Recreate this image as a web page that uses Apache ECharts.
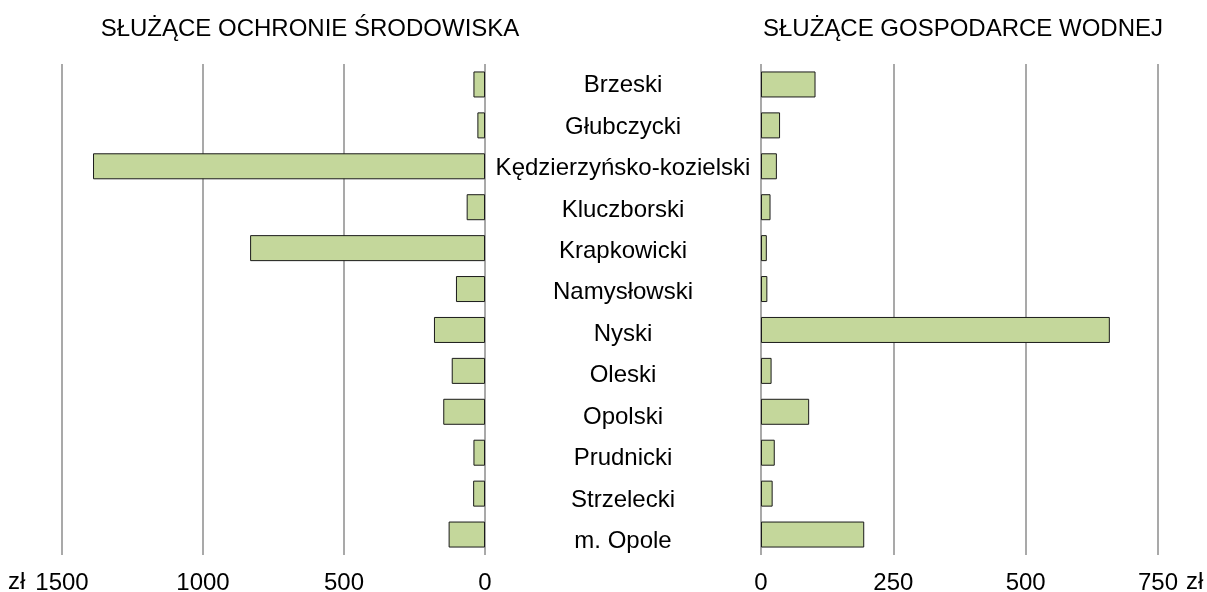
<!DOCTYPE html>
<html>
<head>
<meta charset="utf-8">
<script src="https://cdn.jsdelivr.net/npm/echarts@6/dist/echarts.min.js"></script>
<style>
  html, body { margin: 0; padding: 0; background: #fff; }
  #chart { width: 1207px; height: 592px; }
</style>
</head>
<body>
<div id="chart"></div>
<script>
// Powiaty (kolejność od góry)
const powiaty = ['Brzeski', 'Głubczycki', 'Kędzierzyńsko-kozielski', 'Kluczborski', 'Krapkowicki',
    'Namysłowski', 'Nyski', 'Oleski', 'Opolski', 'Prudnicki', 'Strzelecki', 'm. Opole'];

// Wartości (zł)
const ochronaSrodowiska = [41, 27, 1390, 65, 833, 103, 181, 118, 148, 41, 42, 129];
const gospodarkaWodna = [103, 36, 30, 18, 11, 12, 659, 20, 91, 26, 22, 195];

const tytulLewy = 'SŁUŻĄCE OCHRONIE ŚRODOWISKA';
const tytulPrawy = 'SŁUŻĄCE GOSPODARCE WODNEJ';
const jednostka = 'zł';

const fontFamily = '"Liberation Sans", Arial, sans-serif';
const fontSize = 24;
const barColor = '#c4d79b';
const gridColor = '#8c8c8c';

const chart = echarts.init(document.getElementById('chart'));

function valueAxis(gridIndex, max, interval, inverse) {
    return {
        type: 'value',
        gridIndex: gridIndex,
        min: 0,
        max: max,
        interval: interval,
        inverse: inverse,
        axisLine: { show: false },
        axisTick: { show: false },
        axisLabel: {
            color: '#000',
            fontFamily: fontFamily,
            fontSize: fontSize,
            margin: 16,
            showMinLabel: true,
            showMaxLabel: true,
            formatter: function(value) {
                return String(value); // bez separatora tysięcy
            }
        },
        splitLine: { show: true, lineStyle: { color: gridColor, width: 1.5 } }
    };
}

function hiddenCategory(gridIndex) {
    return {
        type: 'category',
        gridIndex: gridIndex,
        data: powiaty,
        inverse: true,
        axisLine: { show: false },
        axisTick: { show: false },
        axisLabel: { show: false },
        splitLine: { show: false }
    };
}

const option = {
    backgroundColor: '#fff',
    animation: false,
    textStyle: { fontFamily: fontFamily },
    title: [
        { text: tytulLewy, left: 305, top: 12, textAlign: 'center',
          textStyle: { fontFamily: fontFamily, fontSize: fontSize, fontWeight: 'normal', color: '#000' } },
        { text: tytulPrawy, left: 958, top: 12, textAlign: 'center',
          textStyle: { fontFamily: fontFamily, fontSize: fontSize, fontWeight: 'normal', color: '#000' } }
    ],
    grid: [
        { left: 62, top: 64, width: 423, height: 491, outerBoundsMode: 'none' },
        { left: 761, top: 64, width: 397, height: 491, outerBoundsMode: 'none' },
        { left: 623, top: 65, width: 1, height: 497, outerBoundsMode: 'none' }
    ],
    xAxis: [
        valueAxis(0, 1500, 500, true),
        valueAxis(1, 750, 250, false),
        { type: 'value', gridIndex: 2, show: false }
    ],
    yAxis: [
        hiddenCategory(0),
        hiddenCategory(1),
        {
            type: 'category',
            gridIndex: 2,
            data: powiaty,
            inverse: true,
            axisLine: { show: false },
            axisTick: { show: false },
            splitLine: { show: false },
            axisLabel: {
                align: 'center',
                margin: 0,
                color: '#000',
                fontFamily: fontFamily,
                fontSize: fontSize
            }
        }
    ],
    series: [
        {
            name: tytulLewy,
            type: 'bar',
            xAxisIndex: 0,
            yAxisIndex: 0,
            data: ochronaSrodowiska,
            barWidth: 26,
            itemStyle: { color: barColor, borderColor: '#1a1a1a', borderWidth: 1 }
        },
        {
            name: tytulPrawy,
            type: 'bar',
            xAxisIndex: 1,
            yAxisIndex: 1,
            data: gospodarkaWodna,
            barWidth: 26,
            itemStyle: { color: barColor, borderColor: '#1a1a1a', borderWidth: 1 }
        }
    ],
    graphic: [
        { type: 'text', left: 8, top: 570,
          style: { text: jednostka, font: fontSize + 'px ' + fontFamily, fill: '#000' } },
        { type: 'text', left: 1186, top: 570,
          style: { text: jednostka, font: fontSize + 'px ' + fontFamily, fill: '#000' } }
    ]
};

chart.setOption(option);

window.addEventListener('resize', function() {
    chart.resize();
});
</script>
</body>
</html>
